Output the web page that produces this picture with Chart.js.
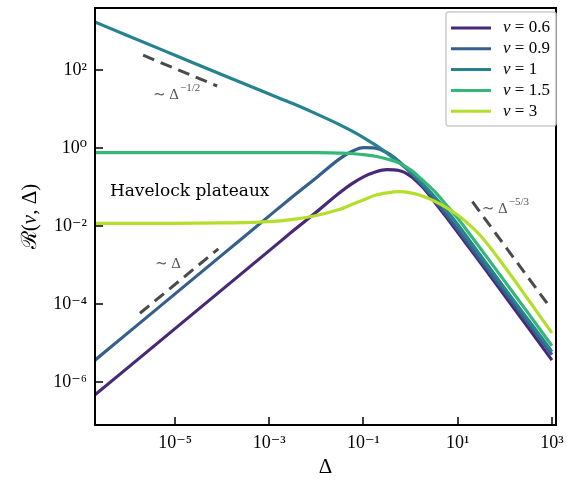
<!DOCTYPE html>
<html><head><meta charset="utf-8">
<script src="https://cdn.jsdelivr.net/npm/chart.js@4"></script>
<style>html,body{margin:0;padding:0;background:#fff}#wrap{width:570px;height:482px}</style>
</head><body><div id="wrap"><canvas id="c" width="570" height="482"></canvas></div>
<script>
// ---- data ----
const deltaValues = [2e-7, 1e-6, 1e-5, 1e-4, 1e-3, 3.16e-3, 1e-2, 0.0316, 0.0562, 0.1, 0.178, 0.316, 0.562, 1, 1.78, 3.16, 5.62, 10, 17.8, 31.6, 100, 316, 1000];
const seriesLabels = ['v = 0.6', 'v = 0.9', 'v = 1', 'v = 1.5', 'v = 3'];
const rV06 = [4.68e-7, 2.34e-6, 2.34e-5, 2.34e-4, 2.34e-3, 7.41e-3, 0.0229, 0.0724, 0.120, 0.182, 0.243, 0.279, 0.266, 0.191, 0.100, 0.0427, 0.0174, 6.92e-3, 2.72e-3, 1.07e-3, 1.62e-4, 2.45e-5, 3.63e-6];
const rV09 = [3.63e-6, 1.82e-5, 1.82e-4, 1.82e-3, 0.0182, 0.0575, 0.174, 0.537, 0.813, 1.02, 1.0, 0.759, 0.457, 0.234, 0.110, 0.0479, 0.0200, 8.13e-3, 3.20e-3, 1.26e-3, 2.00e-4, 3.16e-5, 5.01e-6];
const rV1 = [1698, 759, 240, 75.9, 24.3, 13.8, 7.50, 3.94, 2.75, 1.86, 1.20, 0.741, 0.432, 0.237, 0.122, 0.0582, 0.0260, 0.01096, 4.27e-3, 1.66e-3, 2.51e-4, 3.89e-5, 6.03e-6];
const rV15 = [0.759, 0.759, 0.759, 0.759, 0.759, 0.759, 0.759, 0.741, 0.724, 0.676, 0.617, 0.525, 0.417, 0.275, 0.151, 0.0794, 0.0355, 0.0158, 6.31e-3, 2.51e-3, 3.80e-4, 5.75e-5, 8.51e-6];
const rV3 = [0.01175, 0.01175, 0.01175, 0.0120, 0.0129, 0.0148, 0.0186, 0.0269, 0.0355, 0.0468, 0.0617, 0.0708, 0.0759, 0.0708, 0.0589, 0.0437, 0.0302, 0.0191, 0.0107, 5.37e-3, 8.91e-4, 1.29e-4, 1.82e-5];
const seriesColors = ['#482878', '#355f8d', '#26828e', '#35b779', '#b5de2b'];

// guide lines (power laws), two end points each
const guideHalfX = [2.1e-6, 7.8e-5],  guideHalfY = [240, 39];
const guideOneX = [1.8e-6, 8.3e-5],   guideOneY = [5.8e-5, 2.6e-3];
const guideFiveX = [20.5, 810],       guideFiveY = [0.042, 1.0e-4];

const xTickValues = [1e-5, 1e-3, 1e-1, 1e1, 1e3];
const xTickLabels = ['10⁻⁵', '10⁻³', '10⁻¹', '10¹', '10³'];
const yTickValues = [1e-6, 1e-4, 1e-2, 1, 1e2];
const yTickLabels = ['10⁻⁶', '10⁻⁴', '10⁻²', '10⁰', '10²'];

const SERIF = "'DejaVu Serif', 'Liberation Serif', serif";
const TIMES = "'Liberation Serif', 'DejaVu Serif', serif";

const series = [rV06, rV09, rV1, rV15, rV3];
const datasets = series.map((vals, i) => ({
  label: seriesLabels[i],
  data: deltaValues.map((x, k) => ({x: x, y: vals[k]})),
  borderColor: seriesColors[i],
  backgroundColor: seriesColors[i],
  borderWidth: 3.2,
  pointRadius: 0,
  fill: false,
  cubicInterpolationMode: 'monotone',
  order: 10 - i
}));
function guide(xs, ys) {
  return {label: '', isGuide: true,
    data: xs.map((x, k) => ({x: x, y: ys[k]})),
    borderColor: 'rgba(64,64,64,0.95)', borderWidth: 3, borderDash: [12, 7],
    pointRadius: 0, fill: false, order: -5};
}
datasets.push(guide(guideHalfX, guideHalfY), guide(guideOneX, guideOneY), guide(guideFiveX, guideFiveY));

function drawPow(ctx, x, y, base, sup) {
  ctx.font = '15px ' + TIMES;
  ctx.fillText(base, x, y);
  const w = ctx.measureText(base).width;
  if (sup) { ctx.font = '11px ' + TIMES; ctx.fillText(sup, x + w + 1, y - 8); }
}

const decor = {
  id: 'decor',
  afterDatasetsDraw(chart) {
    const {ctx, scales: {x, y}} = chart;
    ctx.save();
    ctx.fillStyle = '#555'; ctx.textBaseline = 'alphabetic'; ctx.textAlign = 'left';
    drawPow(ctx, x.getPixelForValue(3.4e-6), y.getPixelForValue(18), '∼ Δ', '−1/2');
    drawPow(ctx, x.getPixelForValue(3.75e-6), y.getPixelForValue(8.4e-4), '∼ Δ', '');
    drawPow(ctx, x.getPixelForValue(32.4), y.getPixelForValue(0.0216), '∼ Δ', '−5/3');
    ctx.fillStyle = '#000';
    ctx.font = '17px ' + SERIF;
    ctx.fillText('Havelock plateaux', x.getPixelForValue(4.14e-7), y.getPixelForValue(0.059));
    ctx.restore();
  },
  afterDraw(chart) {
    const {ctx, chartArea: a, scales: {x, y}} = chart;
    ctx.save();
    // inward ticks
    ctx.strokeStyle = '#000'; ctx.lineWidth = 1.5;
    ctx.beginPath();
    x.ticks.forEach(t => { const p = Math.round(x.getPixelForValue(t.value)); ctx.moveTo(p, a.bottom); ctx.lineTo(p, a.bottom - 8); });
    y.ticks.forEach(t => { const p = Math.round(y.getPixelForValue(t.value)); ctx.moveTo(a.left, p); ctx.lineTo(a.left + 8, p); });
    ctx.stroke();
    // frame
    ctx.lineWidth = 2;
    ctx.strokeRect(a.left, a.top, a.right - a.left, a.bottom - a.top);
    // y-axis title, rotated
    ctx.translate(30, (a.top + a.bottom) / 2);
    ctx.rotate(-Math.PI / 2);
    ctx.textBaseline = 'middle'; ctx.textAlign = 'left'; ctx.fillStyle = '#000';
    const parts = [['ℛ(', '21px ' + TIMES], ['v', 'italic 21px ' + TIMES], [', Δ)', '21px ' + TIMES]];
    let tw = 0;
    parts.forEach(p => { ctx.font = p[1]; tw += ctx.measureText(p[0]).width; });
    let cx = -tw / 2;
    parts.forEach(p => { ctx.font = p[1]; ctx.fillText(p[0], cx, 0); cx += ctx.measureText(p[0]).width; });
    ctx.setTransform(1, 0, 0, 1, 0, 0);
    // legend
    const bx = 446, by = 12, bw = 110, bh = 114;
    ctx.fillStyle = 'rgba(255,255,255,0.92)';
    ctx.strokeStyle = '#cccccc'; ctx.lineWidth = 1.5;
    ctx.beginPath();
    ctx.roundRect(bx, by, bw, bh, 3);
    ctx.fill(); ctx.stroke();
    let row = 0;
    chart.data.datasets.forEach(ds => {
      if (ds.isGuide) return;
      const ry = by + 16 + row * 20.8;
      ctx.strokeStyle = ds.borderColor; ctx.lineWidth = 3;
      ctx.beginPath(); ctx.moveTo(bx + 5, ry); ctx.lineTo(bx + 45, ry); ctx.stroke();
      ctx.fillStyle = '#000'; ctx.textBaseline = 'middle';
      const first = ds.label.slice(0, 1), rest = ds.label.slice(1);
      ctx.font = 'italic 17px ' + TIMES;
      ctx.fillText(first, bx + 57, ry);
      const w = ctx.measureText(first).width;
      ctx.font = '17px ' + TIMES;
      ctx.fillText(rest, bx + 57 + w, ry);
      row++;
    });
    ctx.restore();
  }
};

new Chart(document.getElementById('c'), {
  type: 'line',
  data: {datasets: datasets},
  options: {
    responsive: false, animation: false, devicePixelRatio: 1,
    layout: {padding: {left: 0, right: 14, top: 8, bottom: 0}},
    plugins: {legend: {display: false}, tooltip: {enabled: false}},
    scales: {
      x: {
        type: 'logarithmic', position: 'bottom', min: 2e-7, max: 1.22e3,
        grid: {display: false, drawTicks: false}, border: {display: false},
        ticks: {autoSkip: false, maxRotation: 0, padding: 7, color: '#000',
          font: {family: TIMES, size: 18},
          callback: (v, i) => xTickLabels[i]},
        afterBuildTicks: s => { s.ticks = xTickValues.map(v => ({value: v})); },
        afterFit: s => { s.height = 57; s.paddingLeft = 0; s.paddingRight = 0; },
        title: {display: true, text: 'Δ', color: '#000', font: {family: TIMES, size: 21}, padding: {top: 0, bottom: 2}}
      },
      y: {
        type: 'logarithmic', position: 'left', min: 7.9e-8, max: 3.9e3,
        grid: {display: false, drawTicks: false}, border: {display: false},
        ticks: {autoSkip: false, padding: 8, color: '#000',
          font: {family: TIMES, size: 18},
          callback: (v, i) => yTickLabels[i]},
        afterBuildTicks: s => { s.ticks = yTickValues.map(v => ({value: v})); },
        afterFit: s => { s.width = 95; s.paddingTop = 0; s.paddingBottom = 0; }
      }
    }
  },
  plugins: [decor]
});
</script>
</body></html>
